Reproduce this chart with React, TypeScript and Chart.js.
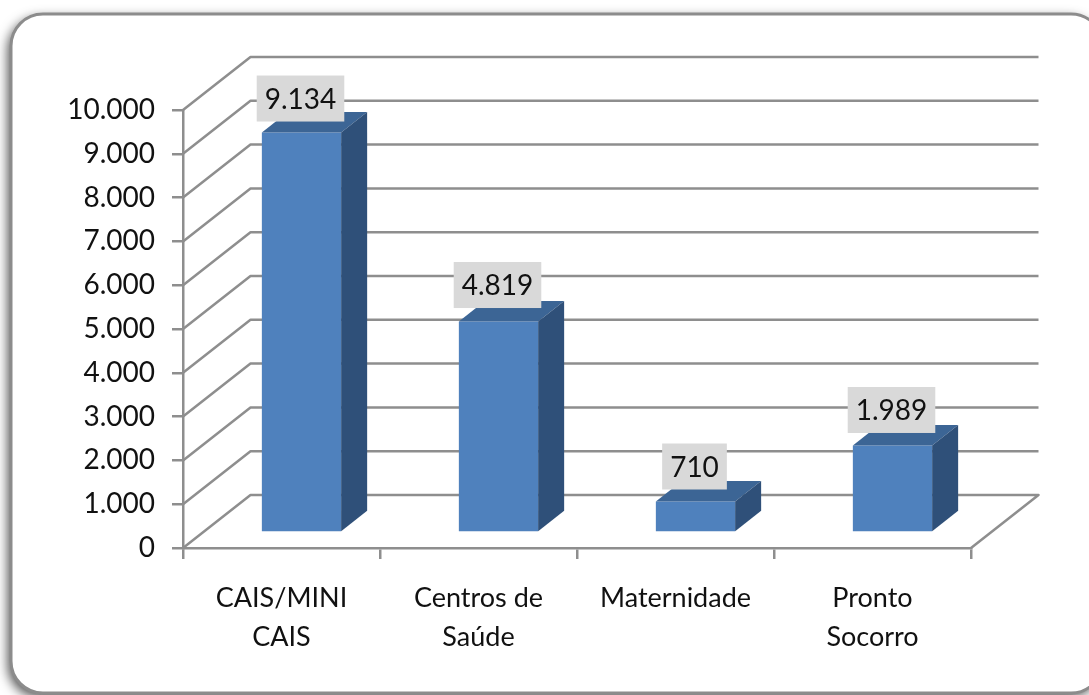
import React, { useEffect, useRef } from "react";
import { Chart, registerables } from "chart.js";

Chart.register(...registerables);

const categories: string[][] = [["CAIS/MINI", "CAIS"], ["Centros de", "Saúde"], ["Maternidade"], ["Pronto", "Socorro"]];
const values: number[] = [9134, 4819, 710, 1989];
const valueLabels: string[] = ["9.134", "4.819", "710", "1.989"];

const FONT = "Lato";
const GRID = "#8e8e8e";
const WALL = { dx: 67.5, dy: -53 };
const BAR_SHIFT = { dx: 20, dy: -15.4 };
const BAR_DEPTH = { dx: 26, dy: -20.6 };
const LABEL_NUDGE = [0, -2.5, -1, -1.5];

const framePlugin = {
  id: "frame",
  beforeDraw(chart: any) {
    const { ctx } = chart;
    ctx.save();
    ctx.beginPath();
    ctx.roundRect(11, 14, 1092, 679, 32);
    ctx.shadowColor = "rgba(0,0,0,0.7)";
    ctx.shadowBlur = 12;
    ctx.shadowOffsetX = -3;
    ctx.shadowOffsetY = 4;
    ctx.fillStyle = "#ffffff";
    ctx.fill();
    ctx.shadowColor = "transparent";
    ctx.lineWidth = 3;
    ctx.strokeStyle = "#8c8c8c";
    ctx.stroke();
    ctx.restore();
  },
};

const wallPlugin = {
  id: "wall",
  beforeDatasetsDraw(chart: any) {
    const { ctx, scales, chartArea } = chart;
    const y = scales.y;
    ctx.save();
    ctx.strokeStyle = GRID;
    ctx.lineWidth = 2.5;
    ctx.lineJoin = "round";
    y.ticks.forEach((t: any) => {
      const py = y.getPixelForValue(t.value);
      ctx.beginPath();
      ctx.moveTo(chartArea.left, py);
      ctx.lineTo(chartArea.left + WALL.dx, py + WALL.dy);
      ctx.lineTo(chartArea.right + WALL.dx, py + WALL.dy);
      if (t.value === 0) ctx.lineTo(chartArea.right, py);
      ctx.stroke();
    });
    ctx.restore();
  },
};

const barPlugin = {
  id: "bar3d",
  beforeDatasetDraw(chart: any) {
    const { ctx } = chart;
    ctx.save();
    ctx.translate(BAR_SHIFT.dx, BAR_SHIFT.dy);
  },
  afterDatasetDraw(chart: any, args: any) {
    const { ctx } = chart;
    const { dx, dy } = BAR_DEPTH;
    args.meta.data.forEach((el: any) => {
      const l = el.x - el.width / 2;
      const r = el.x + el.width / 2;
      ctx.fillStyle = "#3c6595";
      ctx.beginPath();
      ctx.moveTo(l, el.y);
      ctx.lineTo(l + dx, el.y + dy);
      ctx.lineTo(r + dx, el.y + dy);
      ctx.lineTo(r, el.y);
      ctx.closePath();
      ctx.fill();
      ctx.fillStyle = "#2f5079";
      ctx.beginPath();
      ctx.moveTo(r, el.y);
      ctx.lineTo(r + dx, el.y + dy);
      ctx.lineTo(r + dx, el.base + dy);
      ctx.lineTo(r, el.base);
      ctx.closePath();
      ctx.fill();
    });
    ctx.restore();
  },
};

const labelPlugin = {
  id: "valueLabels",
  afterDatasetsDraw(chart: any) {
    const { ctx } = chart;
    const meta = chart.getDatasetMeta(0);
    ctx.save();
    ctx.font = `28px ${FONT}`;
    ctx.textAlign = "center";
    ctx.textBaseline = "middle";
    meta.data.forEach((el: any, i: number) => {
      const cx = el.x + BAR_SHIFT.dx - 1;
      const cy = el.y + BAR_SHIFT.dy - 34 + LABEL_NUDGE[i];
      const w = ctx.measureText(valueLabels[i]).width + 16;
      ctx.fillStyle = "#d9d9d9";
      ctx.fillRect(cx - w / 2, cy - 23, w, 46);
      ctx.fillStyle = "#111111";
      ctx.fillText(valueLabels[i], cx, cy + 1);
    });
    ctx.restore();
  },
};

export default function App() {
  const ref = useRef<HTMLCanvasElement>(null);
  useEffect(() => {
    document.body.style.margin = "0";
    document.body.style.background = "#ffffff";
    const chart = new Chart(ref.current!, {
      type: "bar",
      data: {
        labels: categories,
        datasets: [
          {
            data: values,
            backgroundColor: "#4f81bd",
            borderWidth: 0,
            barPercentage: 0.4025,
            categoryPercentage: 1,
          },
        ],
      },
      options: {
        animation: false,
        responsive: false,
        devicePixelRatio: 1,
        layout: { padding: { top: 110, right: 118, left: 0, bottom: 0 } },
        plugins: { legend: { display: false }, tooltip: { enabled: false }, title: { display: false } },
        scales: {
          x: {
            grid: { drawOnChartArea: false, drawTicks: true, tickLength: 11, color: GRID, lineWidth: 2.5, offset: true },
            border: { display: true, color: GRID, width: 2.5 },
            ticks: {
              font: { family: FONT, size: 27, lineHeight: 1.44 },
              color: "#111111",
              padding: 20,
              maxRotation: 0,
              autoSkip: false,
            },
            afterFit(s: any) {
              s.height = 147;
            },
          },
          y: {
            min: 0,
            max: 10000,
            grid: { drawOnChartArea: false, drawTicks: true, tickLength: 11, color: GRID, lineWidth: 2.5 },
            border: { display: true, color: GRID, width: 2.5 },
            ticks: {
              stepSize: 1000,
              font: { family: FONT, size: 28 },
              color: "#111111",
              padding: 17,
              callback: (v: any) => String(v).replace(/\B(?=(\d{3})+$)/g, "."),
            },
            afterFit(s: any) {
              s.width = 183;
            },
          },
        },
      },
      plugins: [framePlugin, wallPlugin, barPlugin, labelPlugin],
    });
    return () => chart.destroy();
  }, []);
  return <canvas ref={ref} width={1089} height={695} style={{ display: "block", width: 1089, height: 695, filter: "blur(0.4px)" }} />;
}
